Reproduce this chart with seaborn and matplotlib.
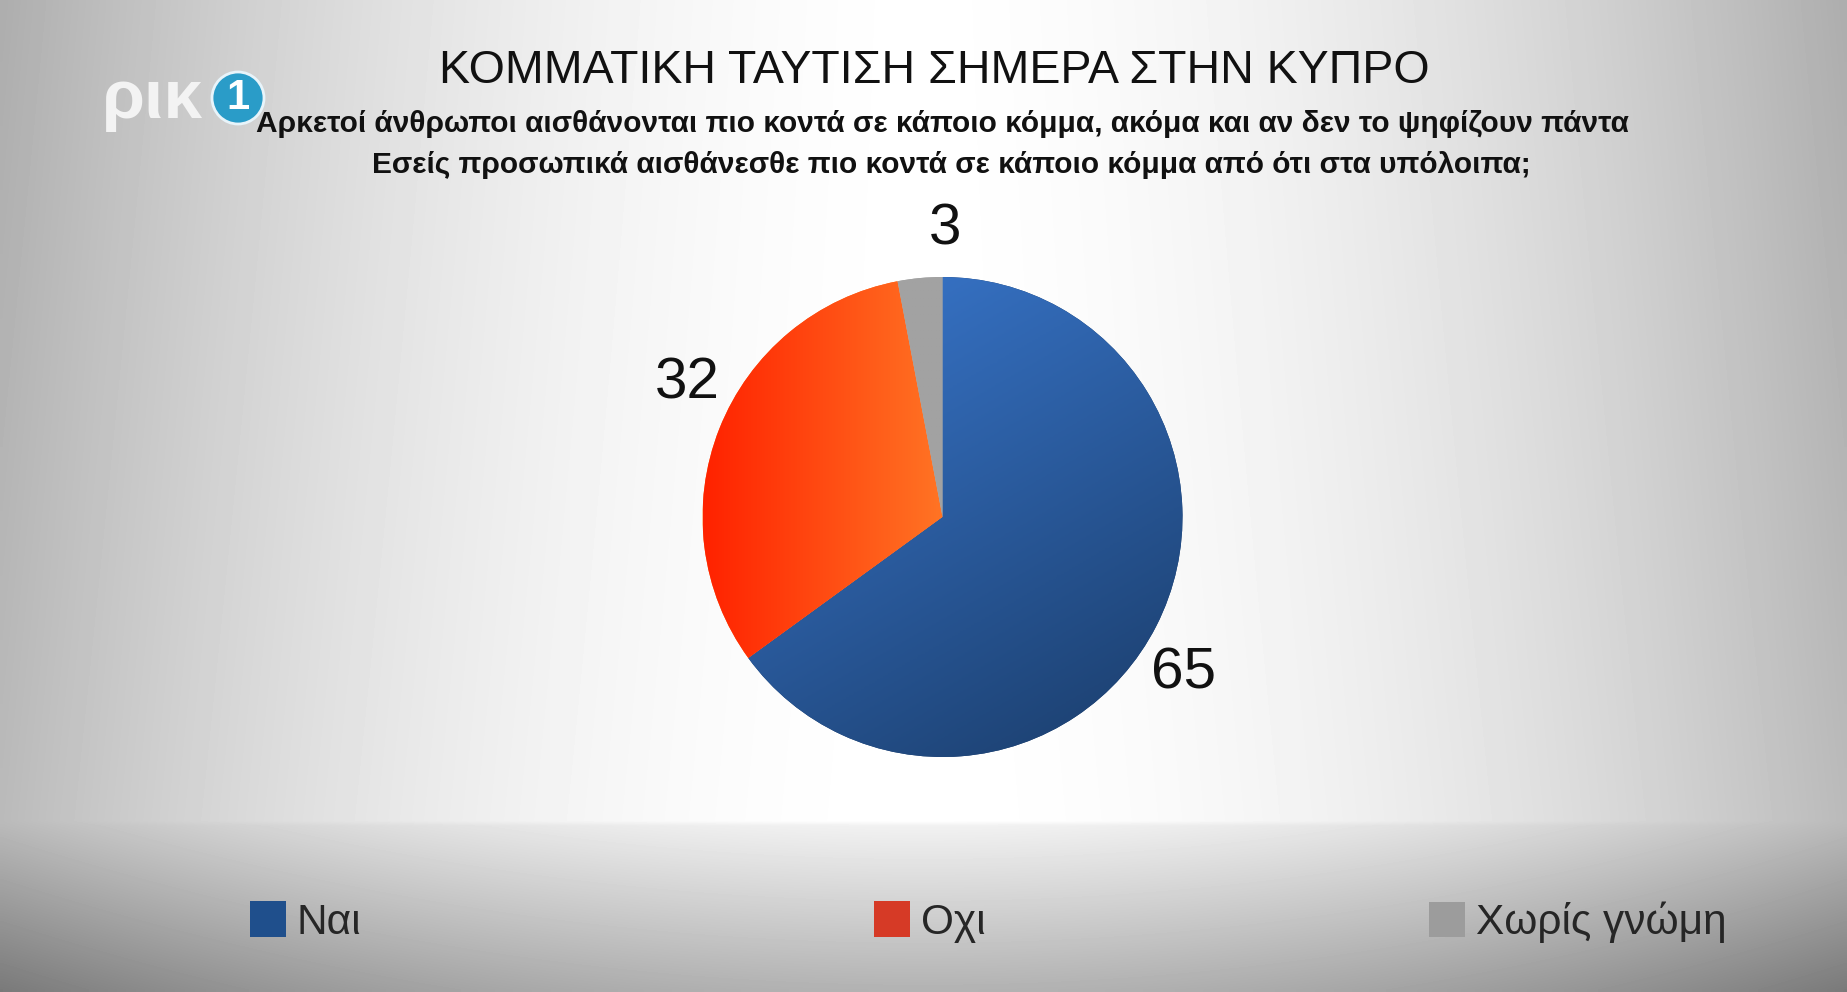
import numpy as np
import matplotlib
matplotlib.use("Agg")
import matplotlib.pyplot as plt
from matplotlib.colors import LinearSegmentedColormap
from matplotlib.patches import Patch, Ellipse
import seaborn as sns

# chart data
title = "ΚΟΜΜΑΤΙΚΗ ΤΑΥΤΙΣΗ ΣΗΜΕΡΑ ΣΤΗΝ ΚΥΠΡΟ"
subtitle = [
    "Αρκετοί άνθρωποι αισθάνονται πιο κοντά σε κάποιο κόμμα, ακόμα και αν δεν το ψηφίζουν πάντα",
    "Εσείς προσωπικά αισθάνεσθε πιο κοντά σε κάποιο κόμμα από ότι στα υπόλοιπα;",
]
categories = ["Ναι", "Οχι", "Χωρίς γνώμη"]
values = [65, 32, 3]

# styling
slice_grad = [("#3b7bd4", "#1a3c69"), ("#ff2200", "#ff7424"), ("#a2a2a2", "#a2a2a2")]
slice_dir = [(0.5, -0.87), (1.0, 0.0), (1.0, 0.0)]
legend_colors = ["#1f4f8c", "#d63a26", "#9c9c9c"]
legend_x = [250, 874, 1429]

sns.set_theme(style="white")
fonts = ["Liberation Sans", "DejaVu Sans"]
plt.rcParams["font.family"] = fonts

W, H = 1847, 992
fig = plt.figure(figsize=(W / 100, H / 100), dpi=100)

# background gradient
bg = fig.add_axes([0, 0, 1, 1], zorder=-10)
gx = np.linspace(-1, 1, 370)
gy = np.linspace(0, 1, 200)
X, Y = np.meshgrid(gx, gy)
base = 1.0 - 0.26 * np.abs(X) ** 2.0 - 0.06 * (1 - Y) * np.abs(X)
band = np.clip((Y - 0.83) / 0.17, 0, 1)
base = np.where(Y > 0.83, (0.95 - 0.25 * band) - 0.22 * np.abs(X) ** 2.0, base)
bg.imshow(base, cmap="gray", vmin=0, vmax=1, aspect="auto", interpolation="bilinear",
          extent=(0, 1, 0, 1))
bg.set_axis_off()

# pie
ax = fig.add_axes([(942.5 - 240) / W, (H - 517 - 240) / H, 480 / W, 480 / H])
wedges, _ = ax.pie(values, startangle=90, counterclock=False,
                   colors=[c[1] for c in slice_grad], radius=1,
                   wedgeprops=dict(linewidth=0))
ax.set_xlim(-1, 1)
ax.set_ylim(-1, 1)

# gradient fill clipped to each slice
px, py = np.meshgrid(np.linspace(-1, 1, 300), np.linspace(-1, 1, 300))
for w, (c0, c1), (dx, dy) in zip(wedges, slice_grad, slice_dir):
    t = px * dx + py * dy
    cmap = LinearSegmentedColormap.from_list("g", [c0, c1])
    im = ax.imshow(t, extent=(-1, 1, -1, 1), origin="lower", cmap=cmap,
                   vmin=t.min() if dx < 1 else -1, vmax=t.max() if dx < 1 else 0,
                   zorder=w.get_zorder() + 0.1, interpolation="bilinear")
    im.set_clip_path(w)

for w, v in zip(wedges, values):
    ang = np.deg2rad((w.theta1 + w.theta2) / 2 - 6)
    ax.text(1.2 * np.cos(ang), 1.2 * np.sin(ang), str(v), ha="center", va="center",
            fontsize=42, color="#111111")

# titles
fig.text(934 / W, 1 - 71 / H, title, ha="center", va="center", fontsize=33.5,
         color="#111111")
fig.text(942 / W, 1 - 124 / H, subtitle[0], ha="center", va="center", fontsize=21.5,
         fontweight="bold", color="#111111")
fig.text(951 / W, 1 - 165 / H, subtitle[1], ha="center", va="center", fontsize=21.5,
         fontweight="bold", color="#111111")

# channel logo
fig.text(102 / W, 1 - 100 / H, "ρικ", ha="left", va="center", fontsize=50,
         fontweight="bold", color="#f3f3f3")
fig.patches.append(Ellipse((238 / W, 1 - 98 / H), 52 / W, 52 / H, transform=fig.transFigure,
                           facecolor="#2a9cc8", edgecolor="#e8f4fa", linewidth=2))
fig.text(238 / W, 1 - 98 / H, "1", ha="center", va="center", fontsize=30,
         fontweight="bold", color="white")

# legend, one entry per slot along the bottom band
for cat, col, lx in zip(categories, legend_colors, legend_x):
    fig.legend(handles=[Patch(facecolor=col, edgecolor="none")], labels=[cat],
               loc="center left", bbox_to_anchor=(lx / W, 1 - 922 / H),
               frameon=False, handlelength=0.85, handleheight=0.9,
               handletextpad=0.25, borderpad=0, borderaxespad=0,
               prop=dict(family=fonts, size=30.5))

fig.savefig("out.png", dpi=100)
